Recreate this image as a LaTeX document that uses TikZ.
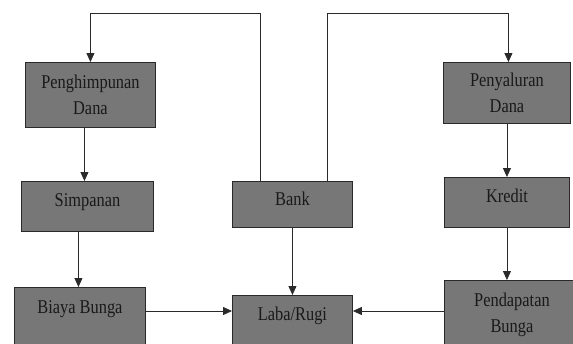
\documentclass[tikz,border=0pt]{standalone}
\usepackage{fontspec}
\setmainfont{Liberation Serif}[FakeStretch=0.84]
\usetikzlibrary{arrows.meta}
\definecolor{boxgray}{HTML}{777777}
\definecolor{edge}{HTML}{2A2A2A}
\begin{document}
\begin{tikzpicture}[x=1pt,y=-1pt,
  box/.style={draw=edge, line width=0.9pt, fill=boxgray, inner sep=0pt,
    anchor=north west, align=center, text=black!90,
    font=\fontsize{19.5}{25.5}\selectfont},
  arr/.style={draw=edge, line width=0.8pt, -{Triangle[length=9pt,width=8pt]}}]
\useasboundingbox (0,0) rectangle (573,343);
\clip (0,0) rectangle (573,343);
\node[box, minimum width=130pt, minimum height=65pt] (ph) at (25,62) {Penghimpunan\\Dana};
\node[box, minimum width=132pt, minimum height=50pt, text height=25pt, text depth=25pt] (sp) at (21,181) {Simpanan};
\node[box, minimum width=131pt, minimum height=63pt, text height=26pt, text depth=37pt] (bb) at (14,287) {Biaya Bunga};
\node[box, minimum width=120pt, minimum height=46pt, text height=24pt, text depth=22pt] (bank) at (232,181) {Bank};
\node[box, minimum width=120pt, minimum height=55pt, text height=25pt, text depth=30pt] (laba) at (232,295) {Laba/Rugi};
\node[box, minimum width=127pt, minimum height=61pt] (py) at (443,62) {Penyaluran\\Dana};
\node[box, minimum width=125pt, minimum height=50pt, text height=25pt, text depth=25pt] (kr) at (444,177) {Kredit};
\node[box, minimum width=135pt, minimum height=69pt] (pb) at (444,280) {Pendapatan\\Bunga};
\draw[arr] ([xshift=28pt]bank.north west) |- ([yshift=49pt]ph.north) -- (ph.north);
\draw[arr] ([xshift=-26pt]bank.north east) |- ([yshift=49pt,xshift=1.5pt]py.north) -- ([xshift=1.5pt]py.north);
\draw[arr] ([xshift=-6pt]ph.south) -- ([xshift=-6pt]ph.south |- sp.north);
\draw[arr] ([xshift=-9pt]sp.south) -- ([xshift=-9pt]sp.south |- bb.north);
\draw[arr] (bank.south) -- (laba.north);
\draw[arr] (py.south) -- (kr.north);
\draw[arr] (kr.south) -- (kr.south |- pb.north);
\draw[arr] ([yshift=-24pt]bb.north east) -- ([yshift=-24pt]bb.north east -| laba.west);
\draw[arr] ([yshift=-31pt]pb.north west) -- ([yshift=-31pt]pb.north west -| laba.east);
\end{tikzpicture}
\end{document}
